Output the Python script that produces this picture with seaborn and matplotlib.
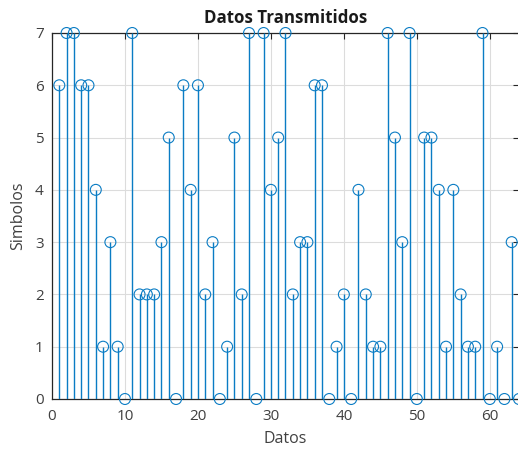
import numpy as np
import pandas as pd
import matplotlib
matplotlib.use("Agg")
import matplotlib.pyplot as plt
import seaborn as sns

# Transmitted symbols (index 1..64)
datos = list(range(1, 65))
simbolos = [6, 7, 7, 6, 6, 4, 1, 3, 1, 0,
            7, 2, 2, 2, 3, 5, 0, 6, 4, 6,
            2, 3, 0, 1, 5, 2, 7, 0, 7, 4,
            5, 7, 2, 3, 3, 6, 6, 0, 1, 2,
            0, 4, 2, 1, 1, 7, 5, 3, 7, 0,
            5, 5, 4, 1, 4, 2, 1, 1, 7, 0,
            1, 0, 3, 0]
x_ticks = [0, 10, 20, 30, 40, 50, 60]
y_ticks = [0, 1, 2, 3, 4, 5, 6, 7]

df = pd.DataFrame({"Datos": datos, "Simbolos": simbolos})

sns.set_theme(style="white")
plt.rcParams["font.family"] = ["Open Sans", "DejaVu Sans"]

stem_color = "#0a7cc4"
axis_color = "#262626"

fig = plt.figure(figsize=(5.18, 4.5), dpi=100)
ax = fig.add_axes([52 / 518, 51 / 450, 467 / 518, 366 / 450])

ax.vlines(df["Datos"], 0, df["Simbolos"], color=stem_color, linewidth=1.0, zorder=3)
sns.scatterplot(data=df, x="Datos", y="Simbolos", ax=ax, marker="o", s=62,
                facecolor="none", edgecolor=stem_color, linewidth=0.8,
                zorder=4, clip_on=False, legend=False)

ax.set_xlim(0, 64)
ax.set_ylim(0, 7)
ax.set_xticks(x_ticks)
ax.set_yticks(y_ticks)
ax.grid(True, color="#dcdcdc", linewidth=0.8, zorder=0)
ax.set_axisbelow(True)

for side in ["left", "bottom", "top", "right"]:
    ax.spines[side].set_color(axis_color)
    ax.spines[side].set_linewidth(0.9)

ax.tick_params(axis="both", direction="in", length=4, width=0.8,
               colors=axis_color, labelsize=11, labelcolor="#404040",
               top=True, right=True)
ax.tick_params(axis="x", pad=7)
ax.tick_params(axis="y", pad=6)

ax.set_xlabel("Datos", fontsize=11.5, color="#404040", labelpad=5)
ax.set_ylabel("Simbolos", fontsize=11.5, color="#404040", labelpad=6)
ax.set_title("Datos Transmitidos", fontsize=12.2, fontweight="bold",
             color="#1a1a1a", pad=7)

fig.savefig("out.png", dpi=100)
